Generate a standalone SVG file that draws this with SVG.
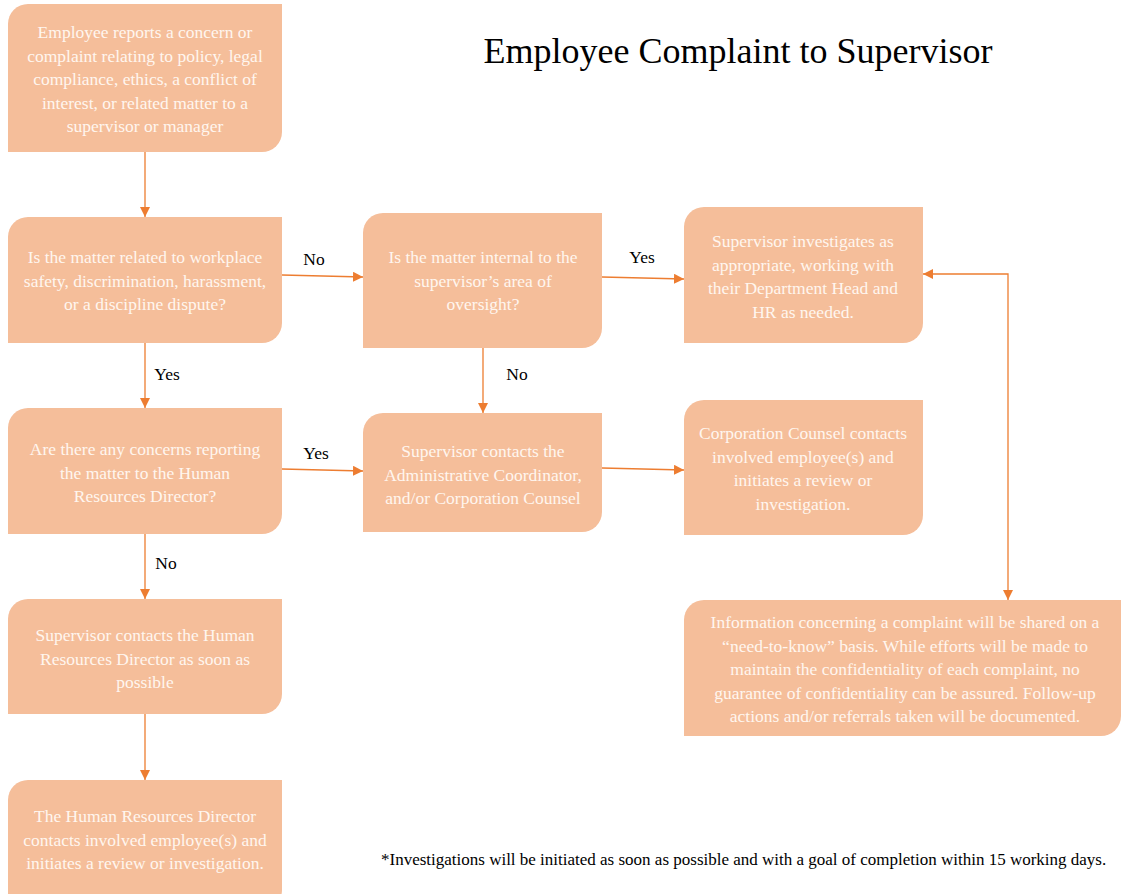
<svg xmlns="http://www.w3.org/2000/svg" width="1121" height="894" viewBox="0 0 1121 894">
  <style>
    .box { fill: #F5BE9A; }
    .bt { font-family: "Liberation Serif", "DejaVu Serif", serif; font-size: 17.5px; fill: #FFF6EF; text-anchor: middle; }
    .lbl { font-family: "Liberation Serif", "DejaVu Serif", serif; font-size: 17.5px; fill: #000; text-anchor: middle; }
    .title { font-family: "Liberation Serif", "DejaVu Serif", serif; font-size: 36px; fill: #000; text-anchor: middle; }
    .note { font-family: "Liberation Serif", "DejaVu Serif", serif; font-size: 17px; fill: #000; }
    .conn { stroke: #ED7D31; stroke-width: 1.3; fill: none; marker-end: url(#arr); }
  </style>
  <defs>
    <marker id="arr" markerUnits="userSpaceOnUse" markerWidth="11" markerHeight="10" refX="10" refY="5" orient="auto-start-reverse">
      <path d="M0,0 L10,5 L0,10 Z" fill="#ED7D31"/>
    </marker>
  </defs>
  <rect width="1121" height="894" fill="#FFFFFF"/>

  <text class="title" x="738" y="63">Employee Complaint to Supervisor</text>

  <g id="connectors">
    <line class="conn" x1="145" y1="152" x2="145" y2="217"/>
    <line class="conn" x1="282" y1="275" x2="363" y2="277"/>
    <line class="conn" x1="602" y1="277" x2="684" y2="279"/>
    <line class="conn" x1="145" y1="343" x2="145" y2="408"/>
    <line class="conn" x1="483" y1="348" x2="483" y2="413"/>
    <line class="conn" x1="282" y1="469" x2="363" y2="471"/>
    <line class="conn" x1="602" y1="468" x2="684" y2="470"/>
    <line class="conn" x1="145" y1="534" x2="145" y2="599"/>
    <line class="conn" x1="145" y1="714" x2="145" y2="780"/>
    <polyline class="conn" points="923,274 1008,274 1008,600" style="marker-start: url(#arr);"/>
    <text class="lbl" x="314" y="265">No</text>
    <text class="lbl" x="642" y="263">Yes</text>
    <text class="lbl" x="167" y="380">Yes</text>
    <text class="lbl" x="517" y="380">No</text>
    <text class="lbl" x="316" y="459">Yes</text>
    <text class="lbl" x="166" y="569">No</text>
  </g>

  <g id="report">
    <path class="box" d="M28,4 H282 V132 A20,20 0 0 1 262,152 H8 V24 A20,20 0 0 1 28,4 Z"/>
    <text class="bt" x="145" y="38">Employee reports a concern or</text>
    <text class="bt" x="145" y="61.5">complaint  relating to policy, legal</text>
    <text class="bt" x="145" y="85">compliance, ethics, a conflict of</text>
    <text class="bt" x="145" y="108.5">interest, or related matter to a</text>
    <text class="bt" x="145" y="132">supervisor or manager</text>
  </g>

  <g id="q-safety">
    <path class="box" d="M28,217 H282 V323 A20,20 0 0 1 262,343 H8 V237 A20,20 0 0 1 28,217 Z"/>
    <text class="bt" x="145" y="263">Is the matter related to workplace</text>
    <text class="bt" x="145" y="286.5">safety, discrimination, harassment,</text>
    <text class="bt" x="145" y="310">or a discipline dispute?</text>
  </g>

  <g id="q-internal">
    <path class="box" d="M383,213 H602 V328 A20,20 0 0 1 582,348 H363 V233 A20,20 0 0 1 383,213 Z"/>
    <text class="bt" x="483" y="263">Is the matter internal to the</text>
    <text class="bt" x="483" y="286.5">supervisor’s area of</text>
    <text class="bt" x="483" y="310">oversight?</text>
  </g>

  <g id="supervisor-investigates">
    <path class="box" d="M704,207 H923 V323 A20,20 0 0 1 903,343 H684 V227 A20,20 0 0 1 704,207 Z"/>
    <text class="bt" x="803" y="247">Supervisor investigates as</text>
    <text class="bt" x="803" y="270.5">appropriate, working with</text>
    <text class="bt" x="803" y="294">their Department Head and</text>
    <text class="bt" x="803" y="317.5">HR as needed.</text>
  </g>

  <g id="q-concerns">
    <path class="box" d="M28,408 H282 V514 A20,20 0 0 1 262,534 H8 V428 A20,20 0 0 1 28,408 Z"/>
    <text class="bt" x="145" y="455">Are there any concerns reporting</text>
    <text class="bt" x="145" y="478.5">the matter to the Human</text>
    <text class="bt" x="145" y="502">Resources Director?</text>
  </g>

  <g id="contact-admin">
    <path class="box" d="M383,413 H602 V512 A20,20 0 0 1 582,532 H363 V433 A20,20 0 0 1 383,413 Z"/>
    <text class="bt" x="483" y="457">Supervisor contacts the</text>
    <text class="bt" x="483" y="480.5">Administrative Coordinator,</text>
    <text class="bt" x="483" y="504">and/or Corporation Counsel</text>
  </g>

  <g id="counsel-review">
    <path class="box" d="M704,400 H923 V515 A20,20 0 0 1 903,535 H684 V420 A20,20 0 0 1 704,400 Z"/>
    <text class="bt" x="803" y="439">Corporation Counsel contacts</text>
    <text class="bt" x="803" y="462.5">involved employee(s) and</text>
    <text class="bt" x="803" y="486">initiates a review or</text>
    <text class="bt" x="803" y="509.5">investigation.</text>
  </g>

  <g id="confidentiality">
    <path class="box" d="M704,600 H1121 V716 A20,20 0 0 1 1101,736 H684 V620 A20,20 0 0 1 704,600 Z"/>
    <text class="bt" x="905" y="628">Information concerning a complaint will be shared on a</text>
    <text class="bt" x="905" y="651.5">“need-to-know” basis. While efforts will be made to</text>
    <text class="bt" x="905" y="675">maintain the confidentiality of each complaint, no</text>
    <text class="bt" x="905" y="698.5">guarantee of confidentiality can be assured. Follow-up</text>
    <text class="bt" x="905" y="722">actions and/or referrals taken will be documented.</text>
  </g>

  <g id="contact-hr">
    <path class="box" d="M28,599 H282 V694 A20,20 0 0 1 262,714 H8 V619 A20,20 0 0 1 28,599 Z"/>
    <text class="bt" x="145" y="641">Supervisor contacts the Human</text>
    <text class="bt" x="145" y="664.5">Resources Director as soon as</text>
    <text class="bt" x="145" y="688">possible</text>
  </g>

  <g id="hr-review">
    <path class="box" d="M28,780 H282 V890 A20,20 0 0 1 262,910 H8 V800 A20,20 0 0 1 28,780 Z"/>
    <text class="bt" x="145" y="822">The Human Resources Director</text>
    <text class="bt" x="145" y="845.5">contacts involved employee(s) and</text>
    <text class="bt" x="145" y="869">initiates a review or investigation.</text>
  </g>

  <text class="note" x="381" y="865">*Investigations will be initiated as soon as possible and with a goal of completion within 15 working days.</text>
</svg>
